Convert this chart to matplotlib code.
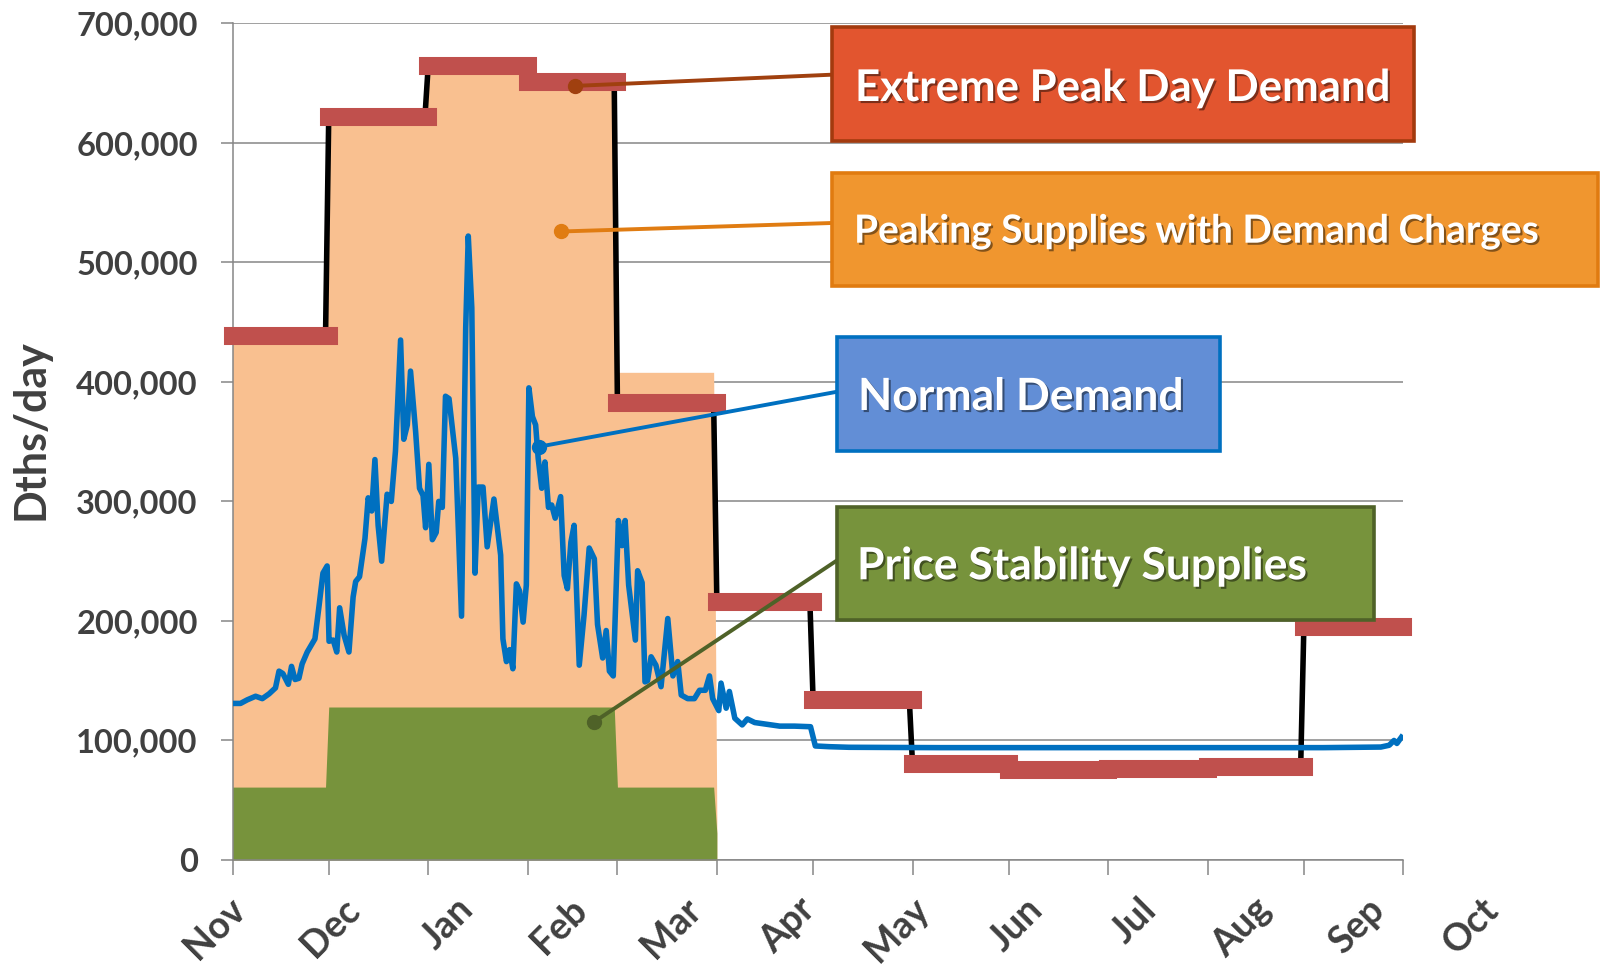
import matplotlib
matplotlib.use('Agg')
import matplotlib.pyplot as plt
from matplotlib.lines import Line2D
from matplotlib.patches import Rectangle
import matplotlib.patheffects as pe

W, H = 1604, 972
FONT = ['Lato', 'DejaVu Sans']
plt.rcParams['font.family'] = FONT

# ---------------- data ----------------
month_labels = ['Nov', 'Dec', 'Jan', 'Feb', 'Mar', 'Apr', 'May', 'Jun', 'Jul', 'Aug', 'Sep', 'Oct']
month_start_days = [0, 30, 61, 92, 120, 151, 181, 212, 242, 273, 304, 334, 365]

extreme_peak = [438000, 622000, 664000, 651000, 382000, 216000, 134000, 80000, 75000, 76500, 77700, 195000]
peaking_supply = [435000, 618000, 660000, 648000, 408000]
peaking_supply_end = 32000
price_stability = [61000, 128000, 128000, 128000, 61000]
price_stability_end = 22500

normal_days = [0, 2.5, 4.6, 7.2, 9.3, 11.4, 13.4, 14.5, 15.7, 17.4,
               18.4, 19.5, 20.7, 21.7, 23.3, 25.7, 27, 28.2, 29.5, 30.1,
               31.4, 32.5, 33.4, 34.8, 36.3, 37.6, 38.4, 39.6, 41.3, 42.3,
               43.4, 44.4, 45.4, 46.5, 48.2, 49.5, 50.8, 52.4, 53.4, 54.5,
               55.5, 57.1, 58.3, 59.4, 60.2, 61.2, 62.3, 63.5, 64.3, 65.4,
               66.4, 67.5, 69.6, 71.4, 72.7, 73.5, 74.6, 75.6, 76.6, 78.1,
               79.4, 81.5, 83.6, 84.3, 85.4, 86.4, 87.4, 88.5, 89.5, 90.6,
               91.6, 92.4, 93.5, 94.5, 95.3, 96.4, 97.4, 98.5, 99.5, 100.6,
               102.3, 103.4, 104.4, 105.5, 106.5, 108.1, 109.6, 111.2, 112.8, 113.8,
               115.4, 116.5, 117.5, 118.7, 120.3, 121.4, 122.4, 123.5, 125.6, 126.3,
               127.7, 128.6, 129.4, 130.5, 132, 133.6, 135.7, 137.3, 138.8, 139.9,
               141.9, 144, 145.6, 147.4, 148.7, 149.7, 151.6, 152.3, 153.9, 154.9,
               156.6, 158.9, 160.5, 162.8, 165.9, 170.6, 175.2, 180.2, 181.7, 186,
               192.2, 220, 260, 300, 340, 358, 360.6, 362.1, 363, 364.4]
normal_k = [131, 131, 134, 137, 135, 139, 144, 158, 156, 147,
            162, 151, 152, 164, 174, 185, 213, 240, 246, 183,
            184, 174, 211, 188, 174, 220, 233, 237, 269, 303,
            292, 335, 280, 250, 306, 300, 342, 435, 352, 364,
            409, 358, 311, 305, 278, 331, 268, 274, 300, 295,
            388, 386, 336, 204, 445, 522, 462, 240, 312, 312,
            262, 302, 255, 185, 166, 176, 160, 231, 225, 199,
            230, 395, 371, 364, 336, 311, 333, 295, 297, 286,
            304, 238, 227, 266, 280, 163, 205, 261, 252, 197,
            169, 192, 158, 154, 284, 263, 284, 230, 184, 242,
            232, 149, 150, 170, 163, 145, 202, 154, 166, 138,
            135, 135, 142, 142, 154, 135, 125, 148, 127, 141,
            118.6, 113, 118, 115, 113.8, 112, 112, 111.5, 95.4, 94.8,
            94.3, 94, 94, 94, 94, 94.5, 96, 100, 97.5, 102.7]
normal_demand = [v * 1000 for v in normal_k]

y_ticks = [0, 100000, 200000, 300000, 400000, 500000, 600000, 700000]
y_label = 'Dths/day'

callouts = ['Extreme Peak Day Demand', 'Peaking Supplies with Demand Charges',
            'Normal Demand', 'Price Stability Supplies']


def step_xy(values, starts, end_value=None):
    xs, ys = [], []
    for i, v in enumerate(values):
        xs += [starts[i], starts[i + 1] - 1]
        ys += [v, v]
    if end_value is not None:
        xs.append(starts[len(values)])
        ys.append(end_value)
    return xs, ys


# ---------------- figure ----------------
fig = plt.figure(figsize=(W / 100, H / 100), dpi=100)
ax_l, ax_r, ax_t, ax_b = 232.5, 1403.3, 23.3, 860.0
ax = fig.add_axes([ax_l / W, 1 - ax_b / H, (ax_r - ax_l) / W, (ax_b - ax_t) / H])

GRAY = '#868686'
TXT = '#404040'

ax.set_xlim(month_start_days[0], month_start_days[-1])
ax.set_ylim(0, 700000)
ax.set_yticks(y_ticks)
ax.set_yticklabels([f'{v:,}' for v in y_ticks])
ax.set_xticks(month_start_days)
ax.set_xticklabels([])
ax.yaxis.grid(True, color=GRAY, lw=1.1, zorder=0)
ax.set_axisbelow(True)
for s in ['top', 'right']:
    ax.spines[s].set_visible(False)
for s in ['left', 'bottom']:
    ax.spines[s].set_color(GRAY)
    ax.spines[s].set_linewidth(1.1)
ax.tick_params(axis='y', length=9, width=1.1, color=GRAY, pad=16,
               labelsize=23.5, labelcolor=TXT)
ax.tick_params(axis='x', length=11, width=1.1, color=GRAY)
for lab in ax.get_yticklabels():
    lab.set_fontweight('bold')

# areas
px, py = step_xy(peaking_supply, month_start_days, peaking_supply_end)
ax.fill_between(px, 0, py, color='#F9C090', lw=0, zorder=1)
gx, gy = step_xy(price_stability, month_start_days, price_stability_end)
ax.fill_between(gx, 0, gy, color='#77933C', lw=0, zorder=2)

# extreme peak: black connecting line + red monthly bars
ex, ey = step_xy(extreme_peak, month_start_days)
ax.plot(ex, ey, color='black', lw=4, zorder=3, solid_joinstyle='miter')
for i, v in enumerate(extreme_peak):
    ax.plot([month_start_days[i], month_start_days[i + 1]], [v, v], color='#C0504D',
            lw=13, solid_capstyle='projecting', zorder=4, clip_on=False)

# normal demand
ax.plot(normal_days, normal_demand, color='#0070C0', lw=4.0, zorder=5,
        solid_joinstyle='round')

# x labels (rotated, evenly spaced as in the reference)
for i, lab in enumerate(month_labels):
    x = 228 + 113.9 * i
    fig.text(x / W, 1 - 892 / H, lab, rotation=45, rotation_mode='anchor',
             ha='right', va='top', fontsize=27, fontweight='bold', color=TXT)

fig.text(31 / W, 1 - 430 / H, y_label, rotation=90, ha='center', va='center',
         fontsize=31, fontweight='bold', color=TXT)


# ---------------- callouts ----------------
def P(x, y):
    return x / W, 1 - y / H


boxes = [
    # (x0, y0, x1, y1, face, edge, text_x, baseline, size)
    (831.7, 26.7, 1413.7, 140.7, '#E2552F', '#A33A0E', 855, 101, 31.5),
    (831.6, 172.7, 1597.8, 286.4, '#F0962F', '#E07B10', 854, 242.7, 28),
    (836.7, 336.7, 1220.0, 450.7, '#628ED6', '#0070C0', 858, 410, 32),
    (836.7, 506.7, 1373.8, 620.0, '#77933C', '#4F6228', 857, 579.3, 32),
]
leaders = [
    ((831.7, 74.7), (574.9, 85.9), '#A0400F'),
    ((831.6, 223.0), (560.7, 231.5), '#E07C12'),
    ((836.7, 391.8), (539.0, 446.7), '#0070C0'),
    ((836.7, 560.6), (594.0, 722.0), '#4F6228'),
]

for (p0, p1, c) in leaders:
    (x0, y0), (x1, y1) = P(*p0), P(*p1)
    fig.add_artist(Line2D([x0, x1], [y0, y1], transform=fig.transFigure,
                          color=c, lw=2.8, zorder=2))
    fig.add_artist(Line2D([x1], [y1], transform=fig.transFigure, marker='o',
                          ms=10, color=c, lw=0, zorder=2))

for (bx0, by0, bx1, by1, fc, ec, tx, tb, fs), txt in zip(boxes, callouts):
    rx, ry = P(bx0, by1)
    rect = Rectangle((rx, ry), (bx1 - bx0) / W, (by1 - by0) / H,
                     transform=fig.transFigure, facecolor=fc, edgecolor=ec,
                     lw=2.6, zorder=3)
    fig.add_artist(rect)
    t = fig.text(tx / W, 1 - tb / H, txt, ha='left', va='baseline',
                 fontsize=fs, fontweight='bold', color='white', zorder=4)
    t.set_path_effects([pe.SimplePatchShadow(offset=(1.5, -1.5), shadow_rgbFace='black',
                                             alpha=0.45), pe.Normal()])

fig.savefig('out.png', dpi=100)
